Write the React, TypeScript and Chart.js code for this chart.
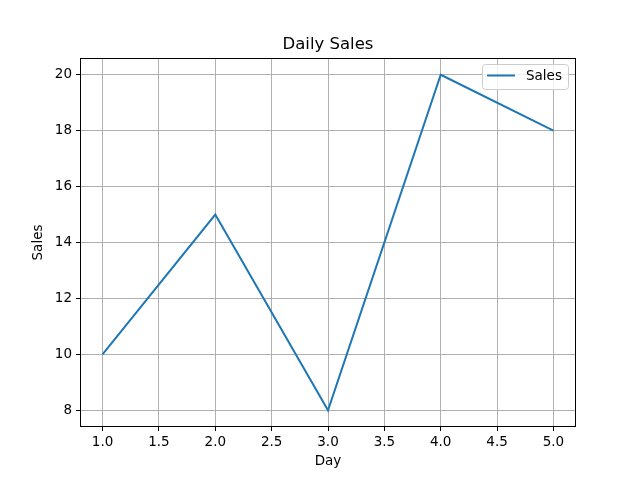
import { useEffect, useRef } from 'react'
import { Chart, registerables } from 'chart.js'

Chart.register(...registerables)

const days = [1, 2, 3, 4, 5]
const sales = [10, 15, 8, 20, 18]
const xTickValues = [1.0, 1.5, 2.0, 2.5, 3.0, 3.5, 4.0, 4.5, 5.0]
const yTickValues = [8, 10, 12, 14, 16, 18, 20]

const FONT = 'DejaVu Sans'
const LINE_COLOR = '#1f77b4'
const GRID_COLOR = '#b0b0b0'

// frame, title and legend the way matplotlib draws them
const decorations = {
  id: 'decorations',
  afterDraw(chart: Chart) {
    const { ctx, chartArea } = chart
    const { left, right, top, bottom } = chartArea
    ctx.save()
    ctx.strokeStyle = '#000'
    ctx.lineWidth = 1
    ctx.strokeRect(left + 0.5, top + 0.5, right - left - 1, bottom - top - 1)

    ctx.fillStyle = '#000'
    ctx.font = `16.5px "${FONT}"`
    ctx.textAlign = 'center'
    ctx.textBaseline = 'alphabetic'
    ctx.fillText('Daily Sales', (left + right) / 2, top - 9)

    // legend box
    const bx = 482.5
    const by = 64.5
    const bw = 86
    const bh = 25
    const r = 3
    ctx.beginPath()
    ctx.moveTo(bx + r, by)
    ctx.lineTo(bx + bw - r, by)
    ctx.arcTo(bx + bw, by, bx + bw, by + r, r)
    ctx.lineTo(bx + bw, by + bh - r)
    ctx.arcTo(bx + bw, by + bh, bx + bw - r, by + bh, r)
    ctx.lineTo(bx + r, by + bh)
    ctx.arcTo(bx, by + bh, bx, by + bh - r, r)
    ctx.lineTo(bx, by + r)
    ctx.arcTo(bx, by, bx + r, by, r)
    ctx.closePath()
    ctx.fillStyle = 'rgba(255,255,255,0.8)'
    ctx.fill()
    ctx.strokeStyle = '#cccccc'
    ctx.lineWidth = 1
    ctx.stroke()

    ctx.beginPath()
    ctx.moveTo(487, 75.5)
    ctx.lineTo(515, 75.5)
    ctx.strokeStyle = LINE_COLOR
    ctx.lineWidth = 2
    ctx.stroke()

    ctx.fillStyle = '#000'
    ctx.font = `13.5px "${FONT}"`
    ctx.textAlign = 'left'
    ctx.textBaseline = 'middle'
    ctx.fillText('Sales', 526, 76)
    ctx.restore()
  },
}

export default function App() {
  const chartRef = useRef<HTMLCanvasElement>(null)
  const chartInstance = useRef<Chart | null>(null)

  useEffect(() => {
    document.body.style.margin = '0'
    if (!chartRef.current) return
    if (chartInstance.current) chartInstance.current.destroy()
    const ctx = chartRef.current.getContext('2d')
    if (!ctx) return

    chartInstance.current = new Chart(ctx, {
      type: 'line',
      data: {
        datasets: [
          {
            label: 'Sales',
            data: days.map((d, i) => ({ x: d, y: sales[i] })),
            borderColor: LINE_COLOR,
            borderWidth: 2,
            pointRadius: 0,
            tension: 0,
            fill: false,
          },
        ],
      },
      options: {
        responsive: false,
        animation: false,
        layout: { padding: { left: 0, top: 58, right: 64, bottom: 0 } },
        plugins: {
          legend: { display: false },
          tooltip: { enabled: false },
        },
        scales: {
          x: {
            type: 'linear',
            min: 0.8,
            max: 5.2,
            afterFit(scale: any) {
              scale.height = 53
            },
            afterBuildTicks(scale: any) {
              scale.ticks = xTickValues.map(v => ({ value: v }))
            },
            grid: { color: GRID_COLOR, lineWidth: 1, tickLength: 4, tickColor: '#000' },
            border: { display: false },
            ticks: {
              color: '#000',
              font: { family: FONT, size: 13.5 },
              padding: 3,
              maxRotation: 0,
              autoSkip: false,
              callback: (v: any) => Number(v).toFixed(1),
            },
            title: {
              display: true,
              text: 'Day',
              color: '#000',
              font: { family: FONT, size: 13.5 },
              padding: { top: 0, bottom: 10 },
            },
          },
          y: {
            type: 'linear',
            min: 7.4,
            max: 20.6,
            afterFit(scale: any) {
              scale.width = 80
            },
            afterBuildTicks(scale: any) {
              scale.ticks = yTickValues.map(v => ({ value: v }))
            },
            grid: { color: GRID_COLOR, lineWidth: 1, tickLength: 4, tickColor: '#000' },
            border: { display: false },
            ticks: {
              color: '#000',
              font: { family: FONT, size: 13.5 },
              padding: 4,
              autoSkip: false,
              callback: (v: any) => String(v),
            },
            title: {
              display: true,
              text: 'Sales',
              color: '#000',
              font: { family: FONT, size: 13.5 },
              padding: { top: 30, bottom: 0 },
            },
          },
        },
      },
      plugins: [decorations],
    })

    return () => {
      if (chartInstance.current) {
        chartInstance.current.destroy()
        chartInstance.current = null
      }
    }
  }, [])

  return (
    <div style={{ width: 640, height: 480, background: '#fff' }}>
      <canvas ref={chartRef} width={640} height={480}></canvas>
    </div>
  )
}
